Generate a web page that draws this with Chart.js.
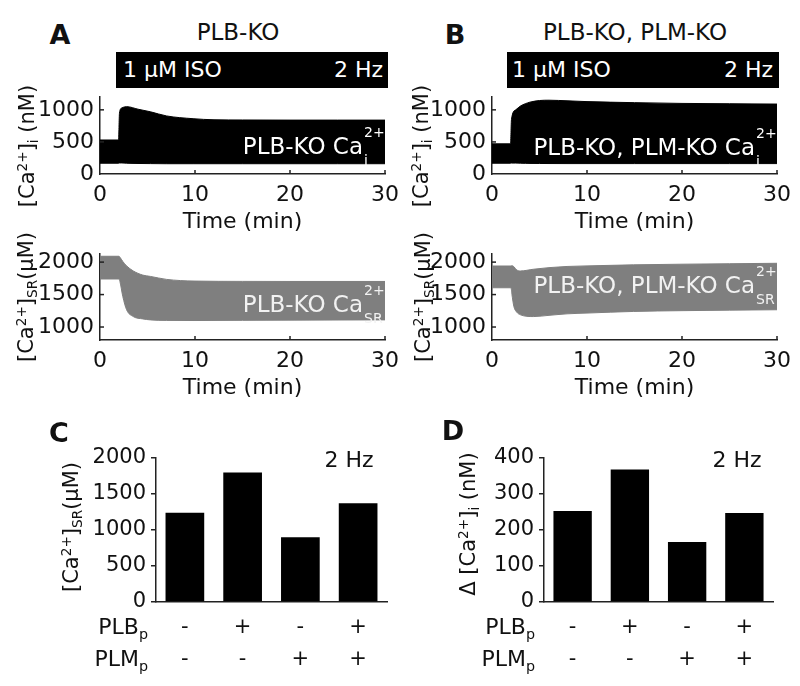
<!DOCTYPE html>
<html><head><meta charset="utf-8">
<script src="https://cdn.jsdelivr.net/npm/chart.js@4/dist/chart.umd.min.js"></script>
<style>
html,body{margin:0;padding:0;background:#fff;}
#fig{position:relative;width:800px;height:686px;overflow:hidden;font-family:"DejaVu Sans",sans-serif;color:#111;}
canvas{position:absolute;}
.t{position:absolute;white-space:nowrap;line-height:1;}
.c{transform:translateX(-50%);}
.lt{font-weight:bold;font-size:27px;}
.ttl{font-size:23px;}
.iso{position:absolute;background:#000;top:52px;width:272px;height:36px;color:#fff;font-size:22px;}
.iso span{position:absolute;top:7.4px;line-height:1;white-space:nowrap;}
.band{font-size:23px;}
.ss{display:inline-block;position:relative;height:0;width:22px;}
.ss .sp,.ss .sb{position:absolute;left:1px;font-size:14px;line-height:1;}
.ss .sp{bottom:15px;}
.ss .sb{top:-1px;}
.yt{position:absolute;white-space:nowrap;line-height:1;font-size:21px;transform:translate(-50%,-50%) rotate(-90deg);}
sup,sub{font-size:0.65em;line-height:0;position:relative;vertical-align:baseline;}
sup{top:-0.55em;}
sub{top:0.3em;}
.rl{font-size:22px;text-align:right;}
</style></head><body><div id="fig">
<div class="t c lt" style="left:60px;top:21px;">A</div>
<div class="t c lt" style="left:455px;top:21px;">B</div>
<div class="t c lt" style="left:59px;top:419px;">C</div>
<div class="t c lt" style="left:453px;top:417px;">D</div>
<div class="t c ttl" style="left:238px;top:21px;">PLB-KO</div>
<div class="t c ttl" style="left:635px;top:21px;">PLB-KO, PLM-KO</div>
<div class="iso" style="left:116px;"><span style="left:7px;">1 µM ISO</span><span style="right:5px;">2 Hz</span></div>
<div class="iso" style="left:507px;"><span style="left:5px;">1 µM ISO</span><span style="right:6px;">2 Hz</span></div>
</div>
<script>
// ---------- data ----------
const timeTicks = [0, 10, 20, 30];
const caiTicks = [0, 500, 1000];
const srTicks = [1000, 1500, 2000];

// Panel A, PLB-KO, cytosolic Ca (nM): envelope of the 2 Hz transients
const A_cai_t  = [0, 1.95, 2.05, 2.3, 2.8, 4, 5.3, 7, 9.8, 12, 15, 20, 25, 30];
const A_cai_hi = [530, 530, 950, 1030, 1050, 1010, 970, 905, 862, 845, 842, 840, 840, 840];
const A_cai_lo = [168, 168, 172, 172, 168, 164, 162, 160, 160, 160, 160, 160, 160, 160];

// Panel A, PLB-KO, SR Ca (uM)
const A_sr_t  = [0, 2, 2.1, 2.4, 2.8, 3.5, 4.5, 5.3, 7, 10, 15, 20, 30];
const A_sr_hi = [2090, 2090, 2075, 2010, 1942, 1864, 1800, 1780, 1734, 1708, 1703, 1702, 1702];
const A_sr_lo = [1740, 1740, 1700, 1470, 1266, 1161, 1125, 1110, 1102, 1100, 1103, 1106, 1110];

// Panel B, PLB-KO + PLM-KO, cytosolic Ca (nM)
const B_cai_t  = [0, 1.95, 2.05, 2.5, 3, 3.5, 4, 5, 6, 8, 10, 15, 20, 25, 30];
const B_cai_hi = [470, 470, 850, 1000, 1060, 1095, 1120, 1145, 1150, 1140, 1128, 1112, 1100, 1095, 1090];
const B_cai_lo = [168, 168, 170, 170, 168, 166, 165, 164, 163, 162, 162, 162, 162, 162, 162];

// Panel B, PLB-KO + PLM-KO, SR Ca (uM)
const B_sr_t  = [0, 2, 2.1, 2.3, 2.6, 3, 4.35, 6, 7.9, 10, 14.9, 20, 25, 30];
const B_sr_hi = [1940, 1940, 1945, 1930, 1880, 1864, 1890, 1915, 1933, 1942, 1958, 1968, 1975, 1982];
const B_sr_lo = [1605, 1605, 1500, 1318, 1230, 1188, 1161, 1180, 1203, 1215, 1240, 1252, 1260, 1266];

// Panels C and D: bars
const barCats = [['-', '-'], ['+', '-'], ['-', '+'], ['+', '+']]; // PLBp / PLMp
const C_sr = [1240, 1800, 900, 1370];
const C_ticks = [0, 500, 1000, 1500, 2000];
const D_dcai = [253, 368, 167, 247];
const D_ticks = [0, 100, 200, 300, 400];

// ---------- drawing ----------
const fig = document.getElementById('fig');
Chart.defaults.font.family = '"DejaVu Sans", sans-serif';
Chart.defaults.color = '#111';

const inwardTicks = {
  id: 'inwardTicks',
  afterDatasetsDraw(chart) {
    const ctx = chart.ctx, xs = chart.scales.x, ys = chart.scales.y, a = chart.chartArea;
    ctx.save(); ctx.strokeStyle = '#222'; ctx.lineWidth = 1.5;
    xs.ticks.forEach(t => { if (t.value === xs.min) return; const p = xs.getPixelForValue(t.value);
      ctx.beginPath(); ctx.moveTo(p, a.bottom); ctx.lineTo(p, a.bottom - 4); ctx.stroke(); });
    ys.ticks.forEach(t => { if (t.value === ys.min) return; const p = ys.getPixelForValue(t.value);
      ctx.beginPath(); ctx.moveTo(a.left, p); ctx.lineTo(a.left + 4, p); ctx.stroke(); });
    ctx.restore();
  }
};

function place(area, Wy, Hx, pad) {
  const c = document.createElement('canvas');
  const L = area.l - Wy - pad.l, T = area.t - pad.t;
  const W = area.r + pad.r - L, H = area.b + Hx + pad.b - T;
  c.width = W; c.height = H;
  Object.assign(c.style, {left: L + 'px', top: T + 'px', width: W + 'px', height: H + 'px'});
  fig.insertBefore(c, fig.firstChild);
  return c;
}
const fixX = h => s => { s.height = h; s.paddingLeft = s.paddingRight = s.paddingTop = s.paddingBottom = 0; };
const fixY = w => s => { s.width = w; s.paddingLeft = s.paddingRight = s.paddingTop = s.paddingBottom = 0; };
const setTicks = arr => s => { s.ticks = arr.map(v => ({value: v})); };
const plain = v => String(v);
const border = {display: true, color: '#222', width: 1.5};

function timeChart(area, t, lo, hi, yMin, yMax, yTicks, color) {
  const Wy = 90, Hx = 61, pad = {l: 0, r: 20, t: 6, b: 2};
  const c = place(area, Wy, Hx, pad);
  const ds = (vals, fill) => ({
    data: t.map((v, i) => ({x: v, y: vals[i]})),
    borderColor: color, backgroundColor: color, borderWidth: 1, pointRadius: 0,
    fill: fill, cubicInterpolationMode: 'monotone'
  });
  new Chart(c, {
    type: 'line',
    data: {datasets: [ds(lo, false), ds(hi, '-1')]},
    options: {
      responsive: false, animation: false, events: [],
      layout: {padding: {left: pad.l, right: pad.r, top: pad.t, bottom: pad.b}},
      plugins: {legend: {display: false}, tooltip: {enabled: false}},
      scales: {
        x: {type: 'linear', min: 0, max: 30, afterBuildTicks: setTicks(timeTicks), afterFit: fixX(Hx),
            grid: {display: false, drawTicks: false, tickLength: 0}, border: border,
            ticks: {padding: 7.8, font: {size: 22}, color: '#111', maxRotation: 0, autoSkip: false, callback: plain},
            title: {display: true, text: 'Time (min)', font: {size: 22}, color: '#111', padding: 0}},
        y: {type: 'linear', min: yMin, max: yMax, afterBuildTicks: setTicks(yTicks), afterFit: fixY(Wy),
            grid: {display: false, drawTicks: false, tickLength: 0}, border: border,
            ticks: {padding: 6, font: {size: 22}, color: '#111', autoSkip: false, callback: plain}}
      }
    },
    plugins: [inwardTicks]
  });
}

function barChart(area, values, yMax, yTicks) {
  const Wy = 100, Hx = 80, pad = {l: 0, r: 5, t: 14, b: 0};
  const c = place(area, Wy, Hx, pad);
  new Chart(c, {
    type: 'bar',
    data: {labels: barCats, datasets: [{data: values, backgroundColor: '#000', borderWidth: 0,
      barPercentage: 0.67, categoryPercentage: 1}]},
    options: {
      responsive: false, animation: false, events: [],
      layout: {padding: {left: pad.l, right: pad.r, top: pad.t, bottom: pad.b}},
      plugins: {legend: {display: false}, tooltip: {enabled: false}},
      scales: {
        x: {afterFit: fixX(Hx), grid: {display: false, drawTicks: false, tickLength: 0}, border: border,
            ticks: {padding: 9.3, font: {size: 21, lineHeight: 32 / 21}, color: '#111', maxRotation: 0, autoSkip: false}},
        y: {min: 0, max: yMax, afterBuildTicks: setTicks(yTicks), afterFit: fixY(Wy),
            grid: {display: true, drawOnChartArea: false, drawTicks: true, tickLength: 5, color: '#222', lineWidth: 1.5},
            border: border, ticks: {padding: 5, font: {size: 21}, color: '#111', autoSkip: false, callback: plain}}
      }
    }
  });
}

timeChart({l: 100, r: 385, t: 97, b: 174}, A_cai_t, A_cai_lo, A_cai_hi, 0, 1200, caiTicks, '#000');
timeChart({l: 492, r: 777, t: 97, b: 174}, B_cai_t, B_cai_lo, B_cai_hi, 0, 1200, caiTicks, '#000');
timeChart({l: 100, r: 385, t: 254, b: 340}, A_sr_t, A_sr_lo, A_sr_hi, 800, 2125, srTicks, '#7f7f7f');
timeChart({l: 492, r: 777, t: 254, b: 340}, B_sr_t, B_sr_lo, B_sr_hi, 800, 2125, srTicks, '#7f7f7f');
barChart({l: 156, r: 387, t: 458, b: 602}, C_sr, 2000, C_ticks);
barChart({l: 544, r: 773, t: 458, b: 602}, D_dcai, 400, D_ticks);

// ---------- text overlays ----------
const html = `
<div class="t band" style="right:415px;top:134.9px;color:#fff;">PLB-KO Ca<span class="ss"><span class="sp">2+</span><span class="sb">i</span></span></div>
<div class="t band" style="right:23px;top:135.9px;color:#fff;">PLB-KO, PLM-KO Ca<span class="ss"><span class="sp">2+</span><span class="sb">i</span></span></div>
<div class="t band" style="right:415px;top:292.9px;color:#f2f2f2;">PLB-KO Ca<span class="ss"><span class="sp">2+</span><span class="sb">SR</span></span></div>
<div class="t band" style="right:23px;top:274.4px;color:#f2f2f2;">PLB-KO, PLM-KO Ca<span class="ss"><span class="sp">2+</span><span class="sb">SR</span></span></div>
<div class="yt" style="left:27px;top:146px;">[Ca<sup>2+</sup>]<sub>i</sub> (nM)</div>
<div class="yt" style="left:421px;top:146px;">[Ca<sup>2+</sup>]<sub>i</sub> (nM)</div>
<div class="yt" style="left:26px;top:297px;">[Ca<sup>2+</sup>]<sub>SR</sub>(µM)</div>
<div class="yt" style="left:423px;top:297px;">[Ca<sup>2+</sup>]<sub>SR</sub>(µM)</div>
<div class="yt" style="left:71px;top:527px;">[Ca<sup>2+</sup>]<sub>SR</sub>(µM)</div>
<div class="yt" style="left:468px;top:524px;">Δ [Ca<sup>2+</sup>]<sub>i</sub> (nM)</div>
<div class="t c" style="left:349px;top:449.4px;font-size:22px;">2 Hz</div>
<div class="t c" style="left:737px;top:449.4px;font-size:22px;">2 Hz</div>
<div class="t rl" style="right:652px;top:616.4px;">PLB<sub>p</sub></div>
<div class="t rl" style="right:652px;top:648.4px;">PLM<sub>p</sub></div>
<div class="t rl" style="right:265px;top:616.4px;">PLB<sub>p</sub></div>
<div class="t rl" style="right:265px;top:648.4px;">PLM<sub>p</sub></div>`;
fig.insertAdjacentHTML('beforeend', html);
</script>
</body></html>
